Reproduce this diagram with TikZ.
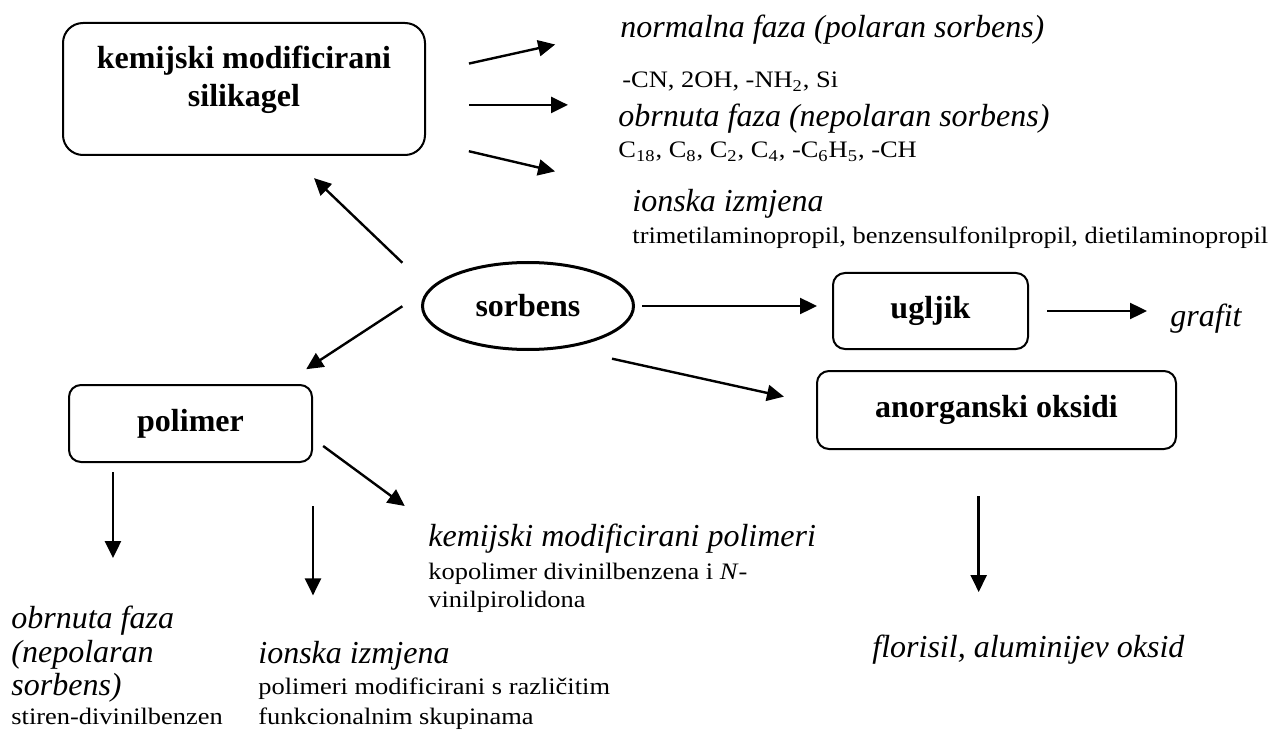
\documentclass[tikz,border=0pt]{standalone}
\usepackage{fontspec}
\setmainfont{Liberation Serif}
\newfontfamily\widefont{Liberation Serif}[FakeStretch=1.12]
\usetikzlibrary{shapes.geometric,arrows.meta}
\tikzset{
  box/.style={draw, line width=1pt, rounded corners=6pt, inner sep=0pt,
    font=\fontsize{16}{19}\selectfont\bfseries},
  oval/.style={draw, ellipse, line width=1.5pt, inner sep=0pt,
    font=\fontsize{16}{19}\selectfont\bfseries},
  itext/.style={inner sep=0pt, anchor=base west, font=\fontsize{16}{19}\selectfont\itshape},
  stext/.style={inner sep=0pt, anchor=base west, font=\widefont\fontsize{11.8}{13}\selectfont},
  arr/.style={-{Triangle[length=8.5pt,width=8pt]}, line width=1.2pt},
}

\begin{document}
\begin{tikzpicture}[x=0.5pt,y=-0.5pt]
  \useasboundingbox (0,0) rectangle (1276,733);
  \node[box, rounded corners=10pt, minimum width=181pt, minimum height=66pt] (silika) at (244,89)
    {\begin{tabular}{@{}c@{}}kemijski modificirani\\silikagel\\[9.5pt]\end{tabular}};
  \node[oval, minimum width=105.5pt, minimum height=43.5pt] (sorbens) at (528,306) {sorbens};
  \node[box, minimum width=97.5pt, minimum height=38pt] (ugljik) at (930.5,311) {ugljik};
  \node[box, minimum width=179.5pt, minimum height=39pt] (oksidi) at (996.5,410) {anorganski oksidi};
  \node[box, minimum width=121.5pt, minimum height=38.5pt] (polimer) at (190.5,423.5) {polimer};

  \node[itext] (normalna) at (620,38) {normalna faza (polaran sorbens)};
  \node[stext] (cn) at (622,88) {-CN, 2OH, -NH\textsubscript{2}, Si};
  \node[itext] (obrnuta) at (618,127) {obrnuta faza (nepolaran sorbens)};
  \node[stext] (alkil) at (618,158) {C\textsubscript{18}, C\textsubscript{8}, C\textsubscript{2}, C\textsubscript{4}, -C\textsubscript{6}H\textsubscript{5}, -CH};
  \node[itext] (ionska) at (632,212) {ionska izmjena};
  \node[stext] (trimetil) at (632,243) {trimetilaminopropil, benzensulfonilpropil, dietilaminopropil};

  \node[itext] (grafit) at (1170,326) {grafit};
  \node[itext] (florisil) at (872,657) {florisil, aluminijev oksid};

  \node[itext] (pobrnuta) at (11,628) {obrnuta faza};
  \node[itext] (pnepol) at (11,662) {(nepolaran};
  \node[itext] (psorb) at (11,695) {sorbens)};
  \node[stext] (pstiren) at (11,724) {stiren-divinilbenzen};
  \node[itext] (pionska) at (258,663) {ionska izmjena};
  \node[stext] (pmodif) at (258,694) {polimeri modificirani s različitim};
  \node[stext] (pfunk) at (258,724) {funkcionalnim skupinama};
  \node[itext] (pkem) at (428,546) {kemijski modificirani polimeri};
  \node[stext] (pkopol) at (428,579) {kopolimer divinilbenzena i \textit{N}-};
  \node[stext] (pvinil) at (428,607) {vinilpirolidona};

  \draw[arr, shorten <=18.7pt, shorten >=16pt] (sorbens.170) -- (silika.-55);
  \draw[arr, shorten <=16.1pt, shorten >=13.5pt] (sorbens.170) -- (polimer.23);
  \draw[arr, shorten <=3.5pt, shorten >=7.5pt] (sorbens.east) -- (sorbens.east -| ugljik.west);
  \draw[arr, shorten <=24.2pt, shorten >=16.4pt] (sorbens.-49.7) -- (oksidi.178.5);

  \draw[arr, shorten <=22pt, shorten >=33.2pt] (silika.5.55) -- (normalna.west);
  \draw[arr, shorten <=21.5pt, shorten >=25pt] (silika.-5.68) -- (silika.-5.68 -| obrnuta.west);
  \draw[arr, shorten <=22pt, shorten >=39.5pt] (silika.-16.93) -- (ionska.north west);

  \draw[arr, shorten <=9pt, shorten >=11.5pt] (ugljik.east) -- (ugljik.east -| grafit.west);
  \draw[arr, shorten <=23pt, shorten >=21pt] (oksidi.-114.2) -- (oksidi.-114.2 |- florisil.north);

  \draw[arr, shorten <=4.5pt, shorten >=23.5pt] (polimer.-153) -- (polimer.-153 |- pobrnuta.north);
  \draw[arr, shorten <=21.5pt, shorten >=22.5pt] (polimer.south east) -- (polimer.south east |- pionska.north);
  \draw[arr, shorten <=6.3pt, shorten >=14.4pt] (polimer.-7.6) -- (pkem.north west);
\end{tikzpicture}
\end{document}
